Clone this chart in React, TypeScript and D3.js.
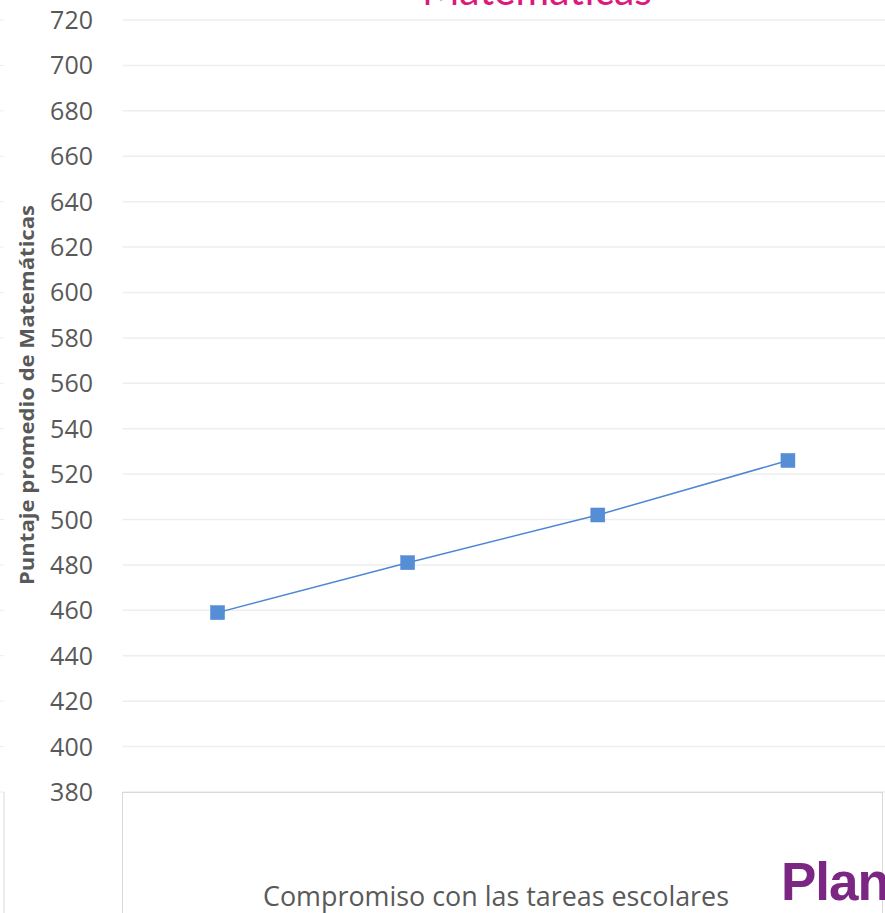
import React from "react";
import * as d3 from "d3";

const categories = ["Bajo", "Medio bajo", "Medio alto", "Alto"];
const values = [459, 481, 502, 526];
const yTicks = [380, 400, 420, 440, 460, 480, 500, 520, 540, 560, 580, 600, 620, 640, 660, 680, 700, 720];
const titleText = "Matemáticas";
const yLabel = "Puntaje promedio de Matemáticas";
const xLabel = "Compromiso con las tareas escolares";
const logoText = "Plan";

const W = 885;
const H = 913;

export default function App() {
  const left = 122.5;
  const right = 883;
  const top = 20;
  const bottom = 792;
  const x = d3.scaleBand<string>().domain(categories).range([left, right]);
  const y = d3.scaleLinear().domain([380, 720]).range([bottom, top]);
  const line = d3
    .line<number>()
    .x((_, i) => (x(categories[i]) as number) + x.bandwidth() / 2)
    .y((d) => y(d));
  const ms = 14;
  return (
    <svg
      width={W}
      height={H}
      style={{ position: "fixed", left: 0, top: 0, background: "#fff" }}
      fontFamily="'Open Sans', sans-serif"
    >
      <rect x={0} y={0} width={W} height={H} fill="#fff" />
      {/* left neighbour stubs */}
      {yTicks.map((t) => (
        <line key={"s" + t} x1={0} x2={4} y1={y(t)} y2={y(t)} stroke="#EDEDED" strokeWidth={1} />
      ))}
      <line x1={4} x2={4} y1={792} y2={H} stroke="#D9D9D9" strokeWidth={1} />
      {/* gridlines */}
      {yTicks.map((t) => (
        <line key={"g" + t} x1={left} x2={W} y1={y(t)} y2={y(t)} stroke="#EEEEEE" strokeWidth={1.5} />
      ))}
      {/* lower box */}
      <rect x={122.5} y={792.5} width={760} height={140} fill="#fff" stroke="#D9D9D9" strokeWidth={1} />
      {/* tick labels */}
      {yTicks.map((t) => (
        <text
          key={"t" + t}
          x={93}
          y={y(t)}
          dy="0.36em"
          textAnchor="end"
          fontSize={25}
          fill="#595959"
        >
          {t}
        </text>
      ))}
      {/* title */}
      <text x={537} y={5} textAnchor="middle" fontSize={42} fill="#DB1A7E" fontFamily="Lato, sans-serif" textLength={230} lengthAdjust="spacingAndGlyphs">
        {titleText}
      </text>
      {/* y label */}
      <text
        transform={`translate(34, 395) rotate(-90)`}
        textAnchor="middle"
        fontSize={19}
        fontWeight="bold"
        fill="#595959"
        textLength={380}
        lengthAdjust="spacingAndGlyphs"
      >
        {yLabel}
      </text>
      {/* line */}
      <path d={line(values) || ""} fill="none" stroke="#4F86D4" strokeWidth={1.5} />
      {values.map((v, i) => (
        <rect
          key={"m" + i}
          x={(x(categories[i]) as number) + x.bandwidth() / 2 - ms / 2}
          y={y(v) - ms / 2}
          width={ms}
          height={ms}
          fill="#558ED5"
          stroke="#4F86D4"
          strokeWidth={0.5}
        />
      ))}
      {/* x label */}
      <text x={263} y={906} fontSize={27} fill="#595959" textLength={466} lengthAdjust="spacingAndGlyphs">
        {xLabel}
      </text>
      {/* logo */}
      <text x={781} y={900} fontSize={53} fontWeight="bold" fill="#7B2682" fontFamily="'Liberation Sans', Arial, sans-serif" letterSpacing={-1}>
        {logoText}
      </text>
    </svg>
  );
}
